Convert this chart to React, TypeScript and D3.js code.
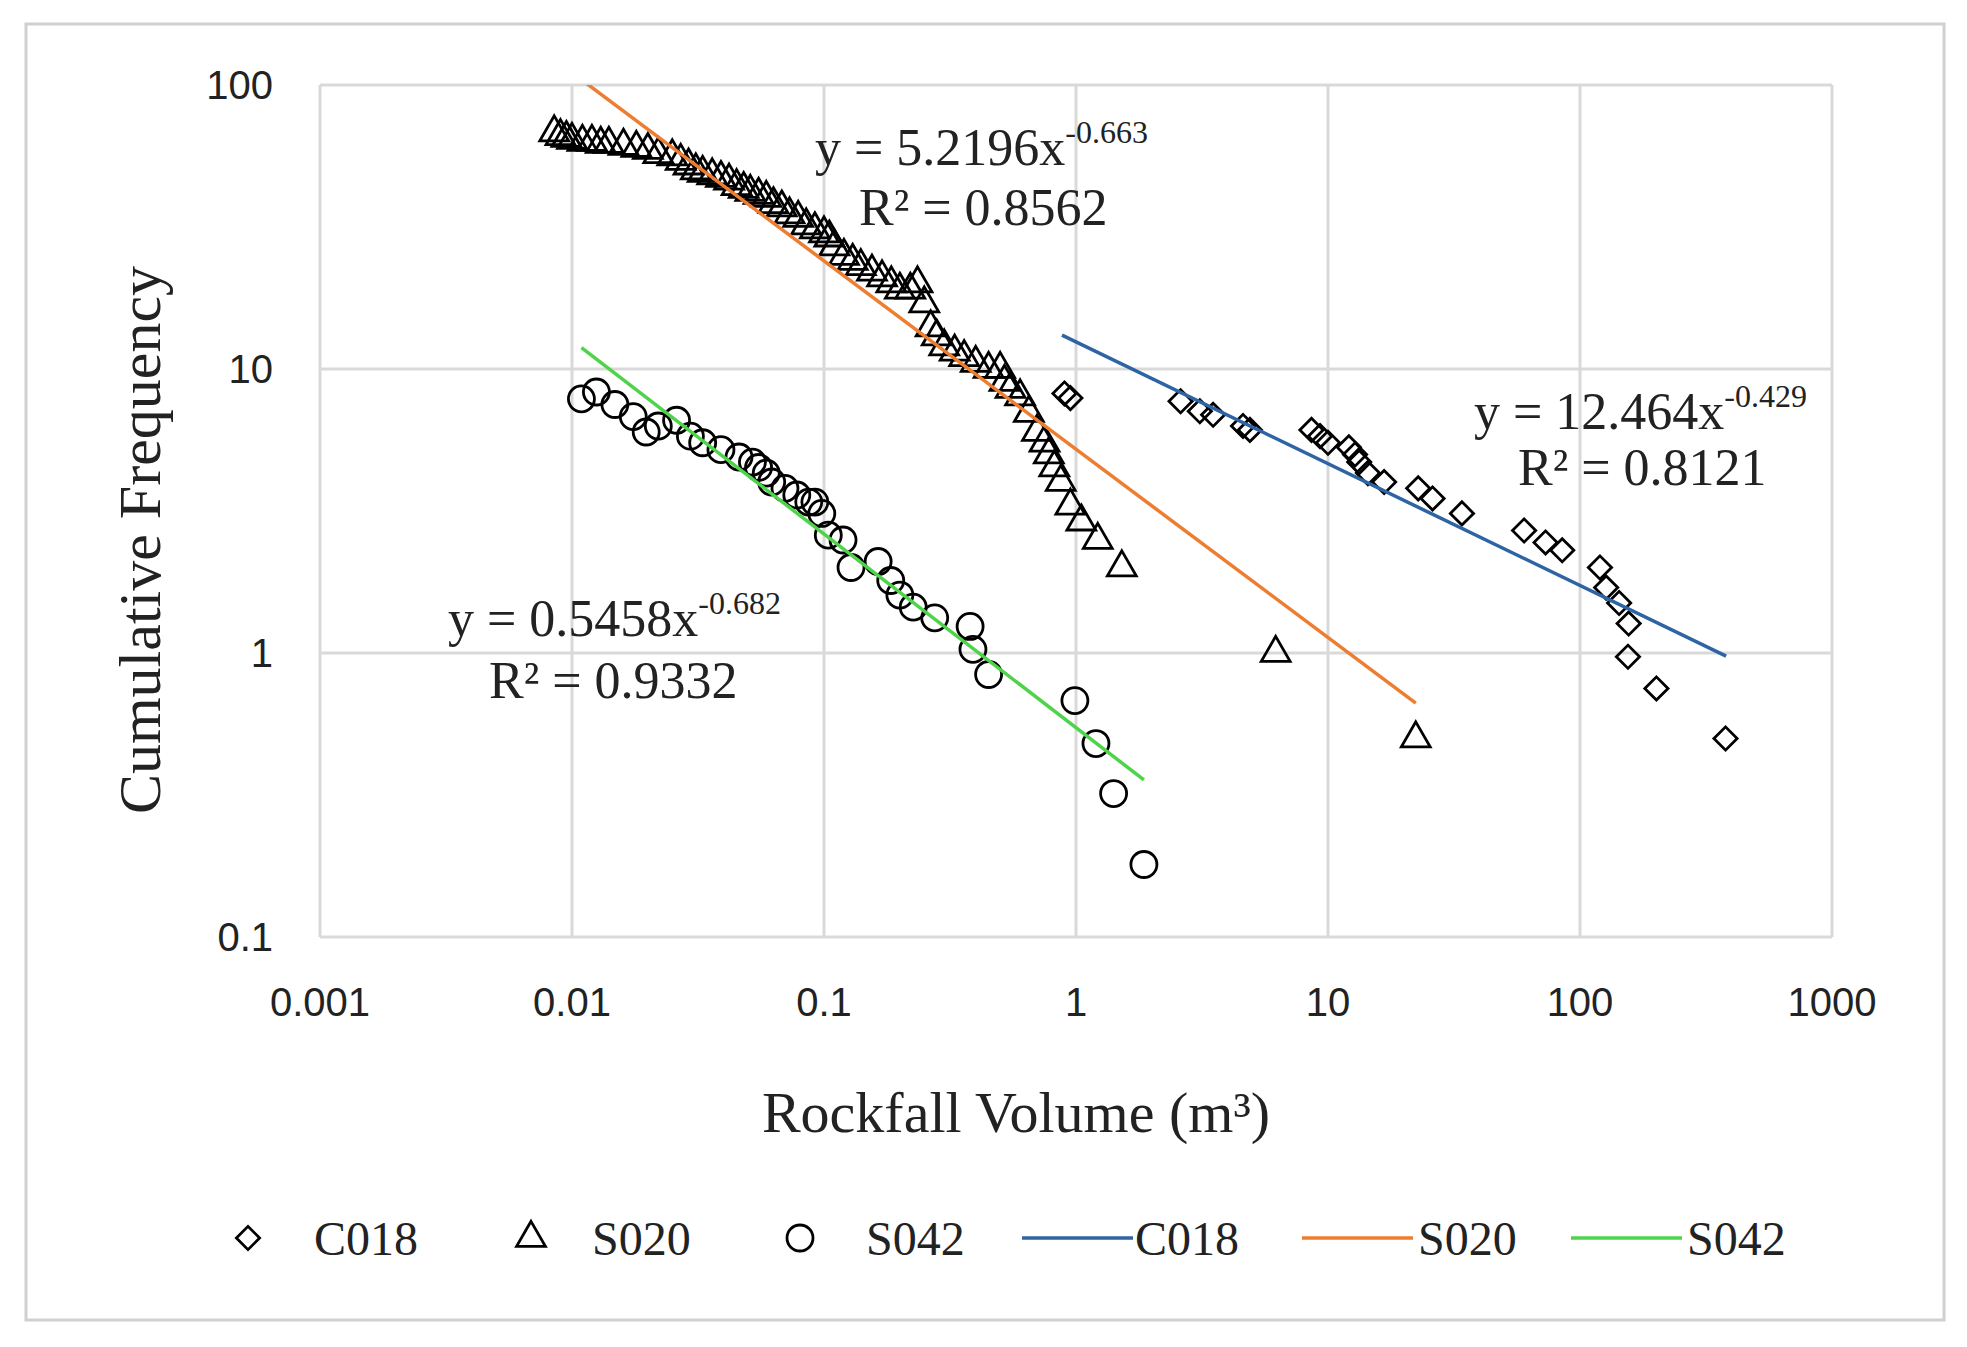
import { useEffect, useRef } from 'react';
import * as d3 from 'd3';

const c018X = [0.9, 0.95, 2.6, 3.1, 3.5, 4.6, 4.9, 8.6, 9.3, 10, 12.1, 12.8, 13.3, 14.4, 16.7, 22.8, 26, 34, 60, 73, 85, 120, 127, 143, 156, 155, 201, 378];
const c018Y = [8.2, 7.9, 7.7, 7.1, 6.9, 6.3, 6.1, 6.1, 5.8, 5.5, 5.3, 5.0, 4.7, 4.3, 4.0, 3.8, 3.5, 3.1, 2.7, 2.45, 2.3, 2.0, 1.7, 1.5, 1.27, 0.97, 0.75, 0.5];

const s020X = [
  0.0085, 0.009, 0.0095, 0.01, 0.011, 0.012, 0.013, 0.014, 0.016, 0.018,
  0.02, 0.022, 0.025, 0.027, 0.029, 0.031, 0.033, 0.036, 0.039, 0.042,
  0.045, 0.048, 0.051, 0.055, 0.059, 0.063, 0.068, 0.073, 0.079, 0.085,
  0.092, 0.1, 0.105, 0.11, 0.12, 0.13, 0.14, 0.155, 0.17, 0.185,
  0.2, 0.22, 0.235, 0.25, 0.265, 0.28, 0.3, 0.33, 0.36, 0.4,
  0.45, 0.5, 0.52, 0.55, 0.6, 0.65, 0.7, 0.75, 0.78, 0.82,
  0.87, 0.95, 1.05, 1.22, 1.52, 6.2, 22.3,
];
const s020Y = [
  68, 66, 65, 64, 63, 63, 62, 62, 61, 60,
  59, 57, 56, 54, 52, 50, 49, 48, 47, 46,
  44, 43, 42, 41, 40, 38, 37, 35, 34, 32,
  31, 30, 29, 27, 25, 24, 23, 22, 21, 20,
  19, 19, 20, 17, 14, 13, 12, 11.5, 11, 10.5,
  10, 10, 9, 8.5, 8, 7, 6, 5.5, 5, 4.5,
  4, 3.3, 2.9, 2.5, 2.0, 1.0, 0.5,
];

const s042X = [0.0109, 0.0125, 0.0148, 0.0175, 0.0197, 0.022, 0.026, 0.0295, 0.033, 0.039, 0.046, 0.052, 0.055, 0.059, 0.062, 0.07, 0.078, 0.087, 0.092, 0.098, 0.104, 0.119, 0.128, 0.164, 0.184, 0.2, 0.226, 0.275, 0.38, 0.39, 0.45, 0.99, 1.2, 1.41, 1.86];
const s042Y = [7.85, 8.3, 7.5, 6.8, 6.0, 6.3, 6.6, 5.8, 5.5, 5.2, 4.9, 4.7, 4.5, 4.3, 4.0, 3.8, 3.6, 3.4, 3.4, 3.1, 2.6, 2.5, 2.0, 2.1, 1.8, 1.6, 1.45, 1.33, 1.24, 1.03, 0.84, 0.68, 0.48, 0.32, 0.18];

const xTicks = [0.001, 0.01, 0.1, 1, 10, 100, 1000];
const yTicks = [0.1, 1, 10, 100];

const fits = [
  { name: 'C018', a: 12.464, b: -0.429, r2: '0.8121', from: 0.88, to: 380, color: '#2e63a4' },
  { name: 'S020', a: 5.2196, b: -0.663, r2: '0.8562', from: 0.0085, to: 22.3, color: '#ed7d31' },
  { name: 'S042', a: 0.5458, b: -0.682, r2: '0.9332', from: 0.0109, to: 1.86, color: '#4fd34a' },
];

const W = 1967;
const H = 1347;
const serif = '"Liberation Serif", "DejaVu Serif", serif';
const sans = '"Liberation Sans", Arial, sans-serif';

export default function App() {
  const svgRef = useRef<SVGSVGElement>(null);

  useEffect(() => {
    if (!svgRef.current) return;
    const svg = d3.select(svgRef.current);
    svg.selectAll('*').remove();

    const left = 320, right = 1832, top = 85, bottom = 937;
    const x = d3.scaleLog().domain([0.001, 1000]).range([left, right]);
    const y = d3.scaleLog().domain([0.1, 100]).range([bottom, top]);

    svg.append('rect').attr('width', W).attr('height', H).attr('fill', '#fff');
    svg.append('rect')
      .attr('x', 26).attr('y', 24).attr('width', 1918).attr('height', 1296)
      .attr('fill', 'none').attr('stroke', '#d0d0d0').attr('stroke-width', 3);

    // Grid
    svg.append('g').selectAll('line').data(xTicks).join('line')
      .attr('x1', d => x(d)).attr('x2', d => x(d)).attr('y1', top).attr('y2', bottom)
      .attr('stroke', '#d9d9d9').attr('stroke-width', 3);
    svg.append('g').selectAll('line').data(yTicks).join('line')
      .attr('x1', left).attr('x2', right).attr('y1', d => y(d)).attr('y2', d => y(d))
      .attr('stroke', '#d9d9d9').attr('stroke-width', 3);

    // Tick labels
    svg.append('g').selectAll('text').data(xTicks).join('text')
      .attr('x', d => x(d)).attr('y', 1016).attr('text-anchor', 'middle')
      .style('font-family', sans).style('font-size', '40px').attr('fill', '#222')
      .text(d => String(d));
    svg.append('g').selectAll('text').data(yTicks).join('text')
      .attr('x', 273).attr('y', d => y(d) + 14).attr('text-anchor', 'end')
      .style('font-family', sans).style('font-size', '40px').attr('fill', '#222')
      .text(d => String(d));

    // Axis titles
    svg.append('text')
      .attr('transform', 'translate(160,540) rotate(-90)').attr('text-anchor', 'middle')
      .style('font-family', serif).style('font-size', '60px').attr('fill', '#222')
      .text('Cumulative Frequency');
    svg.append('text')
      .attr('x', 1016).attr('y', 1132).attr('text-anchor', 'middle')
      .style('font-family', serif).style('font-size', '58px').attr('fill', '#222')
      .text('Rockfall Volume (m³)');

    const defs = svg.append('defs');
    defs.append('clipPath').attr('id', 'plot-clip')
      .append('rect').attr('x', left).attr('y', top).attr('width', right - left).attr('height', bottom - top);

    // Markers
    const diamond = d3.symbol().type(d3.symbolSquare).size(270)();
    const tri = d3.symbol().type(d3.symbolTriangle).size(360)();
    const mk = (xs: number[], ys: number[]) => xs.map((v, i) => ({ x: v, y: ys[i] }));

    svg.append('g').selectAll('path').data(mk(c018X, c018Y)).join('path')
      .attr('d', diamond)
      .attr('transform', d => `translate(${x(d.x)},${y(d.y)}) rotate(45)`)
      .attr('fill', 'none').attr('stroke', '#000').attr('stroke-width', 2.8);
    svg.append('g').selectAll('path').data(mk(s020X, s020Y)).join('path')
      .attr('d', tri)
      .attr('transform', d => `translate(${x(d.x)},${y(d.y)})`)
      .attr('fill', 'none').attr('stroke', '#000').attr('stroke-width', 2.8);
    svg.append('g').selectAll('circle').data(mk(s042X, s042Y)).join('circle')
      .attr('cx', d => x(d.x)).attr('cy', d => y(d.y)).attr('r', 13)
      .attr('fill', 'none').attr('stroke', '#000').attr('stroke-width', 2.8);

    // Trend lines
    const line = d3.line<number>().x(v => x(v[0])).y(v => y(v[1]));
    fits.forEach(f => {
      const pts = [f.from, f.to].map(v => [v, f.a * Math.pow(v, f.b)]);
      svg.append('path').datum(pts as any)
        .attr('clip-path', 'url(#plot-clip)')
        .attr('d', line as any).attr('fill', 'none').attr('stroke', f.color).attr('stroke-width', 3.5);
    });

    // Equations
    const eqPos: Record<string, [number, number, number, number]> = {
      S020: [815, 165, 859, 225],
      C018: [1474, 429, 1518, 485],
      S042: [448, 636, 489, 698],
    };
    fits.forEach(f => {
      const [ex, ey, rx, ry] = eqPos[f.name];
      const t = svg.append('text').attr('x', ex).attr('y', ey)
        .style('font-family', serif).style('font-size', '52px').attr('fill', '#222');
      t.append('tspan').text(`y = ${f.a}x`);
      t.append('tspan').attr('dy', -22).style('font-size', '32px').text(String(f.b));
      svg.append('text').attr('x', rx).attr('y', ry)
        .style('font-family', serif).style('font-size', '52px').attr('fill', '#222')
        .text(`R² = ${f.r2}`);
    });

    // Legend
    const ly = 1238;
    const lg = svg.append('g').style('font-family', serif).style('font-size', '48px').attr('fill', '#222');
    lg.append('path').attr('d', diamond).attr('transform', `translate(248,${ly}) rotate(45)`)
      .attr('fill', 'none').attr('stroke', '#000').attr('stroke-width', 2.8);
    lg.append('text').attr('x', 314).attr('y', ly + 17).text('C018');
    lg.append('path').attr('d', tri).attr('transform', `translate(531,${ly})`)
      .attr('fill', 'none').attr('stroke', '#000').attr('stroke-width', 2.8);
    lg.append('text').attr('x', 592).attr('y', ly + 17).text('S020');
    lg.append('circle').attr('cx', 800).attr('cy', ly).attr('r', 13)
      .attr('fill', 'none').attr('stroke', '#000').attr('stroke-width', 2.8);
    lg.append('text').attr('x', 866).attr('y', ly + 17).text('S042');
    const lineLeg: [number, number][] = [[1022, 1135], [1302, 1418], [1571, 1687]];
    fits.forEach((f, i) => {
      const [x1, tx] = lineLeg[i];
      lg.append('line').attr('x1', x1).attr('x2', x1 + 111).attr('y1', ly).attr('y2', ly)
        .attr('stroke', f.color).attr('stroke-width', 3.5);
      lg.append('text').attr('x', tx).attr('y', ly + 17).text(f.name);
    });
  }, []);

  return (
    <svg ref={svgRef} width={W} height={H}
      style={{ position: 'absolute', left: 0, top: 0, display: 'block' }} />
  );
}
